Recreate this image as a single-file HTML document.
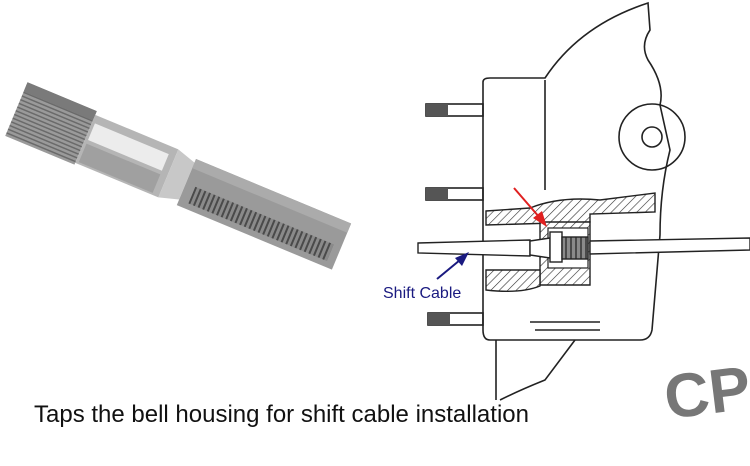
<!DOCTYPE html>
<html><head><style>
html,body{margin:0;padding:0;background:#fff;}
svg{display:block;}
</style></head><body>
<svg width="750" height="466" viewBox="0 0 750 466" xmlns="http://www.w3.org/2000/svg">
<defs>
<pattern id="h" width="6" height="6" patternUnits="userSpaceOnUse" patternTransform="rotate(45)">
<rect width="6" height="6" fill="#fff"/><line x1="0" y1="0" x2="0" y2="6" stroke="#333" stroke-width="1.2"/>
</pattern>
<pattern id="thr" width="5" height="10" patternUnits="userSpaceOnUse">
<rect width="5" height="10" fill="#8a8a8a"/><rect width="2" height="10" fill="#4a4a4a"/>
</pattern>
<pattern id="knurl" width="4" height="4" patternUnits="userSpaceOnUse">
<rect width="4" height="4" fill="#9a9a9a"/><rect width="4" height="1.5" fill="#6a6a6a"/>
</pattern>
</defs>

<g transform="translate(16,110) rotate(22.6)">
  <rect x="0" y="-30" width="75" height="58" fill="url(#knurl)"/>
  <rect x="0" y="-30" width="75" height="10" fill="#7a7a7a"/>
  <rect x="75" y="-26" width="90" height="52" fill="#b5b5b5"/>
  <rect x="78" y="-18" width="80" height="18" fill="#ececec"/>
  <rect x="78" y="4" width="80" height="20" fill="#a0a0a0"/>
  <path d="M165,-26 L185,-20 L185,20 L165,26 Z" fill="#c8c8c8"/>
  <rect x="185" y="-24" width="168" height="50" fill="#9a9a9a"/>
  <rect x="195" y="2" width="150" height="18" fill="url(#thr)"/>
  <rect x="185" y="-24" width="168" height="10" fill="#ababab"/>
</g>

<g fill="none" stroke="#222" stroke-width="1.6">
  <path d="M483,82 Q483,78 490,78 L545,78 Q580,25 648,3 L650,30 Q640,45 648,60 Q665,85 660,105 L670,150 Q660,190 660,235 L652,330 Q650,340 640,340 L490,340 Q483,340 483,330 Z" fill="#fff"/>
  <circle cx="652" cy="137" r="33"/>
  <circle cx="652" cy="137" r="10"/>
  <line x1="545" y1="80" x2="545" y2="190"/>
  <rect x="426" y="104" width="57" height="12"/>
  <rect x="426" y="188" width="57" height="12"/>
  <rect x="428" y="313" width="55" height="12"/>
  <path d="M496,340 L496,400 M575,340 Q560,360 545,380 Q520,390 500,400"/>
  <line x1="530" y1="322" x2="600" y2="322"/>
  <line x1="535" y1="330" x2="600" y2="330"/>
</g>
<g fill="#555">
  <rect x="426" y="104" width="22" height="12"/>
  <rect x="426" y="188" width="22" height="12"/>
  <rect x="428" y="313" width="22" height="12"/>
</g>
<g fill="url(#h)" stroke="#222" stroke-width="1.4">
  <path d="M486,211 L530,208 Q560,196 600,200 L655,193 L655,212 L590,214 L590,222 L486,225 Z"/>
  <path d="M540,222 L590,222 L590,285 L540,285 Z"/>
  <path d="M486,270 L540,270 L540,286 Q520,294 486,290 Z"/>
</g>
<rect x="548" y="228" width="40" height="40" fill="#fff" stroke="#222" stroke-width="1.2"/>
<g stroke="#222" stroke-width="1.4" fill="#fff">
  <path d="M418,243 L530,240 L530,256 L418,253 Z"/>
  <path d="M530,241 L550,238 L550,258 L530,255 Z"/>
  <rect x="550" y="232" width="12" height="30"/>
  <rect x="562" y="237" width="26" height="22" fill="url(#thr)"/>
  <path d="M590,241 L750,238 L750,250 L590,254 Z"/>
</g>
<g stroke="#e02020" stroke-width="2" fill="#e02020">
  <line x1="514" y1="188" x2="540" y2="218"/>
  <path d="M547,227 L533,218 L542,211 Z" stroke="none"/>
</g>
<g stroke="#1a1a80" stroke-width="2" fill="#1a1a80">
  <line x1="437" y1="279" x2="460" y2="260"/>
  <path d="M469,252 L462,266 L455,258 Z" stroke="none"/>
</g>
<text x="383" y="298" font-family="Liberation Sans, sans-serif" font-size="16" fill="#1a1a80">Shift Cable</text>
<text x="34" y="422" font-family="Liberation Sans, sans-serif" font-size="24" fill="#111">Taps the bell housing for shift cable installation</text>
<text x="664" y="414" font-family="Liberation Sans, sans-serif" font-size="62" font-weight="bold" fill="#777" transform="rotate(-7 705 390)">CP</text>
</svg>
</body></html>
